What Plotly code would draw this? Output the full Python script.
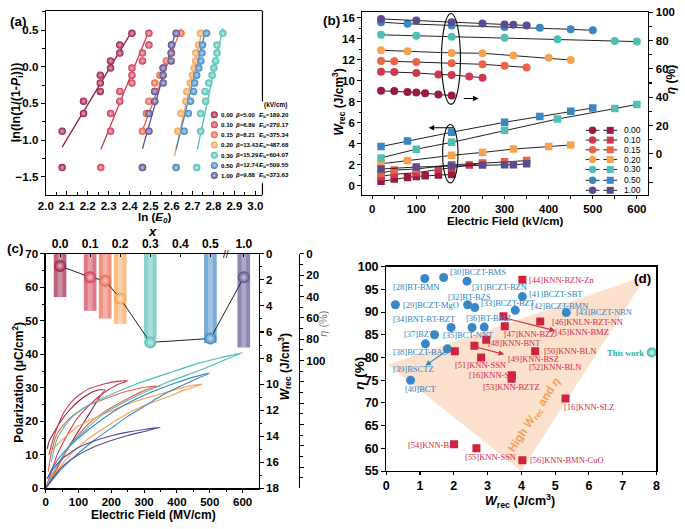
import plotly.graph_objects as go

W, H = 685, 529
def px(x): return x / W
def py(y): return 1 - y / H

FONT = "Liberation Sans, Arial, sans-serif"
SERIF = "Liberation Serif, Times New Roman, serif"

def tint(h, f):
    h = h.lstrip('#')
    r, g, b = int(h[0:2], 16), int(h[2:4], 16), int(h[4:6], 16)
    r = int(r + (255 - r) * f); g = int(g + (255 - g) * f); b = int(b + (255 - b) * f)
    return '#%02x%02x%02x' % (r, g, b)

# ---------------- shared series ----------------
comps = ["0.00", "0.10", "0.15", "0.20", "0.30", "0.50", "1.00"]
colors = ['#9b1b3f', '#d1384f', '#ec6347', '#f6a250', '#4fbfb4', '#3b86c5', '#5b4b8e']

# ---------------- panel (a): Weibull ----------------
weibull_y = [-1.376, -0.88, -0.637, -0.469, -0.336, -0.221, -0.115, -0.018, 0.08, 0.186, 0.296, 0.456]
lnE_000 = [2.078, 2.078, 2.18, 2.18, 2.26, 2.26, 2.26, 2.309, 2.309, 2.353, 2.353, 2.411]
lnE_010 = [2.2625, 2.309, 2.309, 2.353, 2.353, 2.411, 2.411, 2.411, 2.461, 2.461, 2.492, 2.492]
lnE_015 = [2.461, 2.461, 2.48, 2.492, 2.52, 2.52, 2.545, 2.56, 2.575, 2.60, 2.60, 2.645]
lnE_020 = [2.622, 2.63, 2.645, 2.669, 2.673, 2.69, 2.70, 2.708, 2.715, 2.716, 2.73, 2.739]
lnE_030 = [2.72, 2.739, 2.739, 2.763, 2.76, 2.778, 2.794, 2.802, 2.81, 2.817, 2.817, 2.845]
lnE_050 = [2.622, 2.66, 2.68, 2.69, 2.705, 2.71, 2.72, 2.73, 2.74, 2.745, 2.748, 2.767]
lnE_100 = [2.461, 2.492, 2.492, 2.52, 2.52, 2.56, 2.56, 2.56, 2.598, 2.598, 2.60, 2.622]
lnE_all = [lnE_000, lnE_010, lnE_015, lnE_020, lnE_030, lnE_050, lnE_100]
fit_x = [[2.078, 2.411], [2.2625, 2.492], [2.461, 2.645], [2.614, 2.747],
         [2.723, 2.845], [2.622, 2.763], [2.461, 2.622]]
fit_y = [[-1.097, 0.487], [-1.128, 0.487], [-0.87, 0.52], [-1.22, 0.505],
         [-1.13, 0.527], [-1.13, 0.505], [-1.12, 0.50]]
beta = ["5.00", "6.89", "8.21", "13.43", "15.29", "12.74", "9.88"]
Eb = ["189.20", "270.17", "375.34", "487.68", "604.07", "509.55", "373.63"]

# ---------------- panel (b) ----------------
Eb_field = [[20, 50, 80, 100, 120, 150, 180],
            [20, 50, 100, 150, 180, 220, 250],
            [20, 50, 100, 180, 250, 300, 350],
            [20, 80, 180, 250, 320, 400, 450],
            [20, 100, 180, 300, 420, 550, 600],
            [20, 80, 180, 300, 380, 450, 500],
            [20, 100, 180, 250, 300, 320, 350]]
eta_b = [[44.5, 44.3, 43.6, 43.2, 42.7, 41.8, 41.1],
         [58.0, 57.8, 57.1, 56.0, 55.7, 54.6, 53.7],
         [65.5, 65.3, 64.8, 63.9, 63.2, 62.1, 61.0],
         [73.1, 72.4, 71.2, 71.0, 69.4, 67.8, 66.2],
         [84.0, 83.3, 82.6, 81.9, 80.8, 79.7, 79.2],
         [92.9, 91.8, 90.6, 89.5, 89.0, 87.9, 87.2],
         [95.2, 94.1, 92.9, 92.0, 91.3, 91.1, 90.6]]
wrec_b = [[0.43, 0.65, 0.80, 0.90, 0.96, 1.02, 1.08],
          [0.90, 1.10, 1.25, 1.55, 1.70, 1.98, 2.15],
          [1.20, 1.50, 1.60, 2.00, 2.15, 2.30, 2.40],
          [2.10, 2.41, 2.90, 3.18, 3.50, 3.74, 3.89],
          [2.66, 3.49, 4.14, 5.28, 6.36, 7.35, 7.75],
          [3.74, 4.26, 5.10, 6.05, 6.61, 7.10, 7.41],
          [1.60, 1.79, 1.88, 1.98, 2.00, 2.00, 2.10]]

# ---------------- panel (c) ----------------
comp_c = ["0.0", "0.1", "0.15", "0.2", "0.3", "0.5", "1.0"]
comp_pos = [0.0, 0.1, 0.15, 0.2, 0.3, 0.5, 0.611]   # broken top axis position
eta_c = [40.6, 53.4, 60.7, 65.6, 79.6, 83.6, 87.8]
wrec_c = [0.93, 1.8, 2.06, 3.43, 6.8, 6.5, 1.8]
top_tickvals = [0.0, 0.1, 0.2, 0.3, 0.4, 0.5, 0.611]
top_ticktext = ["0.0", "0.1", "0.2", "0.3", "0.4", "0.5", "1.0"]

loop_E = [
    [0, 20, 55, 95, 135, 165, 180, 155, 130, 100, 70, 45, 25, 10, 5],
    [0, 15, 35, 65, 95, 135, 175, 215, 250, 225, 175, 125, 85, 55, 30, 15, 10],
    [0, 35, 75, 125, 175, 245, 304, 349, 304, 245, 175, 125, 75, 35, 15, 8],
    [0, 35, 75, 125, 175, 274, 374, 424, 477, 424, 374, 274, 175, 100, 55, 25, 13],
    [0, 25, 75, 125, 175, 274, 374, 474, 574, 599, 534, 474, 374, 274, 175, 125, 75, 35, 17],
    [0, 50, 100, 150, 200, 250, 300, 350, 400, 450, 499, 450, 400, 350, 300, 250, 200, 150, 100, 50, 20, 5],
    [0, 25, 50, 100, 150, 200, 250, 300, 349, 300, 250, 200, 150, 100, 50, 20, 5],
]
loop_P = [
    [0, 3.2, 10, 16.3, 22.6, 27.4, 29.4, 29.2, 28.1, 26, 23.1, 19.9, 16.6, 13.9, 11.8],
    [0, 4.2, 10, 15.8, 20.7, 25, 28.4, 30.8, 32.1, 32, 31.1, 29.4, 26.5, 22.6, 16.8, 11.9, 10],
    [0, 6.1, 12.9, 18.7, 22.6, 26.5, 29.4, 30.5, 30.2, 28.9, 26.5, 24.5, 21.1, 16.3, 9.5, 5],
    [0, 5.2, 10, 14.4, 17.8, 23.6, 27.4, 29.4, 31.1, 30.3, 28.9, 26, 22.1, 18.7, 14.9, 12, 10.5],
    [0, 5.2, 12.9, 17.8, 22.1, 27.4, 31.8, 35.4, 39.5, 40.5, 39, 37.6, 34.4, 31.1, 27, 24.5, 20.7, 14.8, 7.9],
    [0, 6, 10.5, 14.5, 18, 21.5, 24.5, 27.5, 30, 32.3, 34.4, 33.2, 31.6, 29.8, 27.8, 25.4, 22.5, 19.0, 15.0, 10.2, 6.0, 2.8],
    [0, 3.5, 6.5, 10.0, 12.5, 14.3, 15.8, 17.0, 18.2, 17.6, 16.8, 15.7, 14.2, 12.2, 8.8, 5.5, 3.0],
]

# ---------------- panel (d) ----------------
bcz_w = [1.14, 1.70, 2.39, 0.27, 2.41, 2.62, 3.82, 4.03, 5.33, 1.92, 2.54, 2.90, 1.43, 1.16, 1.81, 0.72]
bcz_eta = [97.4, 97.6, 96.8, 91.6, 91.6, 91.0, 90.4, 93.4, 89.9, 86.6, 86.6, 86.7, 85.0, 83.0, 81.9, 75.0]
knn_w = [4.03, 3.47, 3.51, 4.56, 2.96, 2.61, 2.03, 2.81, 4.41, 3.72, 3.71, 5.31, 2.01, 2.67, 4.03]
knn_eta = [97.1, 89.1, 86.9, 87.9, 83.9, 82.6, 81.4, 80.0, 81.4, 76.1, 75.3, 71.0, 60.9, 60.0, 57.4]
this_w = [7.86]
this_eta = [81.1]
blue_labels = ["[28]BT-BMN", "[30]BCZT-BMS", "[31]BCZT-BZN", "[32]BT-BZS", "[41]BCZT-SBT",
               "[29]BCZT-MgO", "[33]BCZT-BZT", "[42]BCZT-BMN", "[43]BCZT-NBN", "[34]BNT-BT-BZT",
               "[36]BT-BMZ", "[37]BZT", "[35]BCT-NNT", "[38]BCZT-BAS", "[39]BSCTZ", "[40]BCT"]
blue_label_pos = [(0.13, 95.6), (1.82, 98.9), (2.49, 95.6), (1.78, 93.4), (4.17, 93.9),
                  (0.44, 91.6), (2.76, 92.1), (4.24, 91.4), (5.56, 90.0), (0.15, 88.4),
                  (2.31, 88.6), (0.48, 85.1), (1.63, 85.0), (0.15, 81.2), (0.15, 77.5), (0.50, 73.1)]
red_labels = ["[44]KNN-BZN-Zn", "[46]KNLN-BZT-NN", "[45]KNN-BMZ", "[47]KNN-BZZ", "[48]KNN-BNT",
              "[50]KNN-BLN", "[49]KNN-BSZ", "[51]KNN-SSN", "[52]KNN-BLN", "[16]KNN-SZ",
              "[53]KNN-BZTZ", "[16]KNN-SLZ", "[54]KNN-BF", "[55]KNN-SSN", "[56]KNN-BMN-CuO"]
red_label_pos = [(4.17, 97.1), (4.85, 87.9), (4.95, 85.7), (3.42, 85.1), (2.94, 83.1),
                 (4.61, 81.4), (3.54, 79.6), (1.99, 78.4), (4.17, 77.9), (2.38, 76.2),
                 (2.81, 73.6), (5.21, 69.1), (0.58, 60.7), (2.28, 58.1), (4.19, 57.4)]

fig = go.Figure()

# ---------- panel a traces ----------
for i in range(7):
    fig.add_trace(go.Scatter(x=fit_x[i], y=fit_y[i], mode='lines', xaxis='x', yaxis='y',
                             line=dict(color=colors[i], width=1.3), showlegend=False))
for i in range(7):
    fig.add_trace(go.Scatter(x=lnE_all[i], y=weibull_y, mode='markers', xaxis='x', yaxis='y',
                             marker=dict(size=7.5, color=colors[i],
                                         gradient=dict(type='radial', color=tint(colors[i], 0.65))),
                             showlegend=False))

# ---------- panel b traces ----------
for i in range(7):
    fig.add_trace(go.Scatter(x=Eb_field[i], y=eta_b[i], mode='lines+markers', xaxis='x2', yaxis='y3',
                             line=dict(color='#222', width=1),
                             marker=dict(symbol='circle', size=8, color=colors[i]), showlegend=False))
    fig.add_trace(go.Scatter(x=Eb_field[i], y=wrec_b[i], mode='lines+markers', xaxis='x2', yaxis='y2',
                             line=dict(color='#222', width=1),
                             marker=dict(symbol='square', size=7.5, color=colors[i]), showlegend=False))

# ---------- panel c traces ----------
for i in range(7):
    fig.add_trace(go.Scatter(x=loop_E[i], y=loop_P[i], mode='lines', xaxis='x3', yaxis='y4',
                             line=dict(color=colors[i], width=1.1, shape='spline', smoothing=0.6),
                             showlegend=False))
fig.add_trace(go.Bar(x=comp_pos, y=eta_c, xaxis='x4', yaxis='y5', width=0.042,
                     marker=dict(color=colors, line=dict(width=0)), opacity=0.68, showlegend=False))
fig.add_trace(go.Bar(x=comp_pos, y=eta_c, xaxis='x4', yaxis='y5', width=0.016,
                     marker=dict(color='rgba(255,255,255,0.28)', line=dict(width=0)), showlegend=False))
fig.add_trace(go.Scatter(x=comp_pos, y=wrec_c, mode='lines+markers', xaxis='x4', yaxis='y6',
                         line=dict(color='#222', width=1),
                         marker=dict(size=12, color=colors,
                                     gradient=dict(type='radial', color=[tint(c, 0.7) for c in colors])),
                         showlegend=False))

# ---------- panel d traces ----------
fig.add_trace(go.Scatter(x=bcz_w, y=bcz_eta, mode='markers', xaxis='x5', yaxis='y7',
                         marker=dict(symbol='circle', size=9, color='#3a86c6'), showlegend=False))
fig.add_trace(go.Scatter(x=knn_w, y=knn_eta, mode='markers', xaxis='x5', yaxis='y7',
                         marker=dict(symbol='square', size=8, color='#cf2440'), showlegend=False))
fig.add_trace(go.Scatter(x=this_w, y=this_eta, mode='markers', xaxis='x5', yaxis='y7',
                         marker=dict(symbol='circle', size=10, color='#35b8a8',
                                     gradient=dict(type='radial', color='#d8f4f0')), showlegend=False))

# ---------- legends (pixel overlay axis) ----------
rows_a = [110.7, 121.0, 131.3, 141.7, 152.3, 162.7, 173.0]
fig.add_trace(go.Scatter(x=[210] * 7, y=rows_a, mode='markers', xaxis='x6', yaxis='y8',
                         marker=dict(size=7, color=colors,
                                     gradient=dict(type='radial', color=[tint(c, 0.65) for c in colors])),
                         showlegend=False))
rows_b = [126.7, 136.7, 146.7, 156.7, 166.9, 178.0, 188.3]
lx, ly = [], []
for r in rows_b:
    lx += [588, 602, None, 606, 620, None]
    ly += [r, r, None, r, r, None]
fig.add_trace(go.Scatter(x=lx, y=ly, mode='lines', xaxis='x6', yaxis='y8',
                         line=dict(color='#222', width=1), showlegend=False))
fig.add_trace(go.Scatter(x=[595] * 7, y=rows_b, mode='markers', xaxis='x6', yaxis='y8',
                         marker=dict(symbol='circle', size=7.5, color=colors), showlegend=False))
fig.add_trace(go.Scatter(x=[613] * 7, y=rows_b, mode='markers', xaxis='x6', yaxis='y8',
                         marker=dict(symbol='square', size=7, color=colors), showlegend=False))

# ---------- axes ----------
def tf(size=11.5):
    return dict(family=FONT, size=size, color='black', weight='bold')

def axs(**kw):
    base = dict(showline=True, linecolor='black', linewidth=1.2, ticks='outside', ticklen=4,
                tickwidth=1.1, tickcolor='black', tickfont=tf(), showgrid=False, zeroline=False,
                fixedrange=True)
    base.update(kw)
    return base

def mn(d, where='outside'):
    return dict(dtick=d, ticks=where, ticklen=2.5, tickcolor='black', tickwidth=1)

lay = dict(
    width=W, height=H, margin=dict(l=0, r=0, t=0, b=0),
    paper_bgcolor='white', plot_bgcolor='rgba(0,0,0,0)',
    barmode='overlay', showlegend=False,
    font=dict(family=FONT, color='black'),
    # panel a
    xaxis=axs(domain=[px(38.5), px(259)], anchor='y', range=[2.0, 3.034], tick0=2.0, dtick=0.1,
              tickformat='.1f', mirror=True, ticks='inside', ticklen=3.5, minor=mn(0.05, 'inside')),
    yaxis=axs(domain=[py(193), py(4)], anchor='x', range=[-1.748, 0.762], tick0=0, dtick=0.5,
              tickformat='.1f', minor=mn(0.25)),
    # panel b
    xaxis2=axs(domain=[px(360.7), px(651.7)], anchor='y2', range=[-22.3, 625.8], dtick=100,
               minor=mn(50), mirror=True, ticklen=3),
    yaxis2=axs(domain=[py(193.3), py(5)], anchor='x2', range=[-0.89, 16.56], dtick=2, minor=mn(1)),
    yaxis3=axs(overlaying='y2', side='right', anchor='x2', range=[-29.2, 100.2],
               tickvals=[-20, 0, 20, 40, 60, 80, 100], ticktext=['', '0', '20', '40', '60', '80', '100'],
               minor=dict(tickmode='array', tickvals=[-10, 10, 30, 50, 70, 90], ticks='outside',
                          ticklen=2.5, tickcolor='black')),
    # panel c
    xaxis3=axs(domain=[px(38.3), px(255)], anchor='y4', range=[0, 648.5], dtick=100, minor=mn(50),
               ticklen=3),
    yaxis4=axs(domain=[py(494.5), py(253.5)], anchor='x3', range=[0, 70], dtick=10, minor=mn(5)),
    xaxis4=axs(overlaying='x3', side='top', anchor='y4', range=[-0.048, 0.660],
               tickvals=top_tickvals, ticktext=top_ticktext, tickfont=tf(12), ticks='inside', ticklen=3),
    yaxis5=axs(overlaying='y4', side='right', anchor='free', position=px(296), range=[219.8, 0],
               tickvals=list(range(0, 220, 20)),
               ticktext=[str(v) if v <= 100 else '' for v in range(0, 220, 20)],
               minor=mn(10)),
    yaxis6=axs(overlaying='y4', side='right', anchor='x3', range=[18, 0], dtick=2, minor=mn(1)),
    # panel d
    xaxis5=axs(domain=[px(385), px(660)], anchor='y7', range=[0, 8], dtick=1, tickfont=tf(12.5),
               mirror=True, ticklen=3),
    yaxis7=axs(domain=[py(476.7), py(266.7)], anchor='x5', range=[55, 100], dtick=5, tickfont=tf(12.5),
               mirror=True),
    # pixel overlay for legends
    xaxis6=dict(domain=[0, 1], range=[0, W], visible=False, anchor='y8', fixedrange=True),
    yaxis8=dict(domain=[0, 1], range=[H, 0], visible=False, anchor='x6', fixedrange=True),
)
fig.update_layout(**lay)

# ---------- shapes ----------
shapes = []
shapes.append(dict(type='line', xref='paper', yref='paper', x0=px(259), x1=px(259), y0=py(4), y1=py(97),
                   line=dict(color='black', width=1.2)))
shapes.append(dict(type='line', xref='paper', yref='paper', x0=px(259), x1=px(259), y0=py(181), y1=py(193),
                   line=dict(color='black', width=1.2)))
shapes.append(dict(type='circle', xref='x2', yref='y2', x0=157, x1=200, y0=7.75, y1=16.4,
                   line=dict(color='black', width=1.1)))
shapes.append(dict(type='circle', xref='x2', yref='y2', x0=159.6, x1=194.5, y0=0.28, y1=5.84,
                   line=dict(color='black', width=1.1)))
shapes.append(dict(type='path', xref='x5', yref='y7', path='M 0.05,78.4 L 7.71,98.1 L 4.0,55 Z',
                   fillcolor='rgba(248,196,158,0.5)', line=dict(width=0), layer='below'))
fig.update_layout(shapes=shapes)

# ---------- annotations ----------
anns = []
def A(text, x, y, size=12, angle=0, color='black', bold=True, xanchor='center', family=FONT, **kw):
    d = dict(text=text, x=px(x), y=py(y), xref='paper', yref='paper', showarrow=False,
             textangle=angle, xanchor=xanchor, yanchor='middle',
             font=dict(family=family, size=size, color=color, weight='bold' if bold else 'normal'))
    d.update(kw)
    anns.append(d)

A("(a)", 11, 15, 13.5)
A("(b)", 329, 14, 13.5)
A("(c)", 8, 248, 13.5)
A("(d)", 657, 279, 13.5, xanchor='right')

A("ln(ln(1/(1-<i>P</i><sub>i</sub>)))", 10, 98, 12.5, angle=-90)
A("ln (<i>E</i><sub><i>0</i></sub>)", 149, 217, 11.5)
A("(kV/cm)", 259, 101, 6.5, xanchor='left')
for i in range(7):
    A(comps[i], 215, rows_a[i], 6.2, xanchor='left')
    A("<i>β</i>=" + beta[i], 229.5, rows_a[i], 6.0, xanchor='left')
    A("<i>E</i><sub>b</sub>=" + Eb[i], 253, rows_a[i], 6.2, xanchor='left')

A("<i>W</i><sub>rec</sub> (J/cm<sup>3</sup>)", 337, 98, 12, angle=-90)
A("<i>η</i> (%)", 675, 75, 12, angle=-90)
A("Electric Field (kV/cm)", 506, 220, 11.5)
for i in range(7):
    A(comps[i], 625, rows_b[i], 8.5, xanchor='left', bold=False)
anns.append(dict(xref='x2', yref='y2', axref='x2', ayref='y2', x=241, y=8.31, ax=204, ay=8.31,
                 showarrow=True, arrowhead=2, arrowsize=1, arrowwidth=1.1, arrowcolor='black', text=''))
anns.append(dict(xref='x2', yref='y2', axref='x2', ayref='y2', x=128, y=5.53, ax=187.6, ay=5.53,
                 showarrow=True, arrowhead=2, arrowsize=1, arrowwidth=1.1, arrowcolor='black', text=''))

A("<i>x</i>", 147, 231, 13)
A("//", 221.5, 254, 10, bold=False)
A("Polarization (μC/cm<sup>2</sup>)", 10, 385, 12, angle=-90)
A("Electric Field (MV/cm)", 148, 521.5, 12)
A("<i>W</i><sub>rec</sub> (J/cm<sup>3</sup>)", 282, 370, 12, angle=-90)
A("<i>η</i> (%)", 321, 325, 11, angle=-90, color='#7a7a7a', bold=False)

A("<i>η</i> (%)", 357, 376, 13.5, angle=-90)
A("<i>W</i><sub>rec</sub> (J/cm<sup>3</sup>)", 521, 507, 12.5)
for t, (x, y) in zip(blue_labels, blue_label_pos):
    anns.append(dict(text=t, x=x, y=y, xref='x5', yref='y7', showarrow=False, xanchor='left',
                     yanchor='middle', font=dict(family=SERIF, size=8.5, color='#2f84c4')))
for t, (x, y) in zip(red_labels, red_label_pos):
    anns.append(dict(text=t, x=x, y=y, xref='x5', yref='y7', showarrow=False, xanchor='left',
                     yanchor='middle', font=dict(family=SERIF, size=8.5, color='#d42a3f')))
anns.append(dict(text="This work", x=7.68, y=81.1, xref='x5', yref='y7', showarrow=False, xanchor='right',
                 yanchor='middle', font=dict(family=SERIF, size=8.5, color='#2ab0a0', weight='bold')))
anns.append(dict(text="High <i>W</i><sub>rec</sub> and <i>η</i>", x=4.4, y=67.3, xref='x5', yref='y7',
                 showarrow=False, textangle=-57,
                 font=dict(family=FONT, size=11.5, color='#f2a255', weight='bold')))
for (x0, y0, x1, y1, c) in [(3.51, 88.7, 5.0, 85.9, '#d42a3f'), (2.67, 82.3, 3.49, 80.7, '#d42a3f'),
                            (1.81, 81.6, 1.16, 78.2, '#2f84c4')]:
    anns.append(dict(xref='x5', yref='y7', axref='x5', ayref='y7', x=x1, y=y1, ax=x0, ay=y0,
                     showarrow=True, arrowhead=2, arrowsize=1, arrowwidth=1.1, arrowcolor=c, text=''))

fig.update_layout(annotations=anns)
fig.write_html("out.html", config={'displayModeBar': False, 'staticPlot': True},
               post_script="document.body.style.margin='0px';document.body.style.overflow='hidden';")
